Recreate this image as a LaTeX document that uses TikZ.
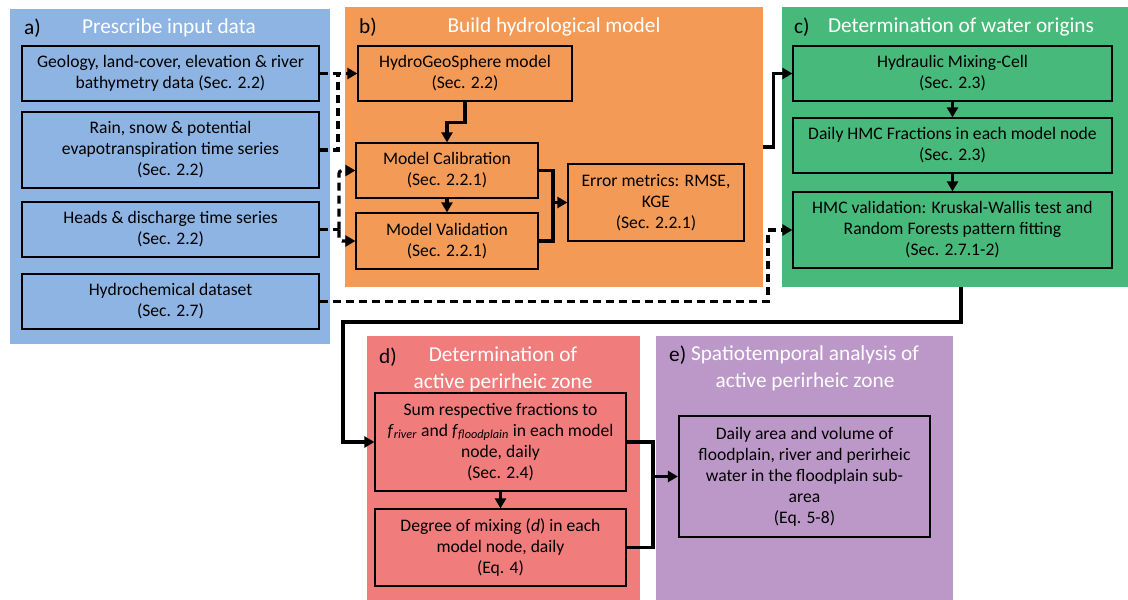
\documentclass[tikz,border=0pt]{standalone}
\usepackage{fontspec}
\setmainfont{Carlito}
\usetikzlibrary{arrows.meta}
\definecolor{cA}{HTML}{8DB4E2}
\definecolor{cB}{HTML}{F39A56}
\definecolor{cC}{HTML}{47B97A}
\definecolor{cD}{HTML}{F17C7C}
\definecolor{cE}{HTML}{BC98C8}
\begin{document}
\begin{tikzpicture}[x=1pt,y=-1pt,
  panel/.style={draw=none,inner sep=0pt},
  box/.style={draw=black,line width=1.3pt,inner sep=0pt,align=center,font=\fontsize{17.6}{21}\selectfont},
  ttl/.style={text=white,inner sep=0pt,font=\fontsize{21.3}{26.5}\selectfont,align=center},
  lbl/.style={text=black,inner sep=0pt,font=\fontsize{21.3}{26}\selectfont,anchor=west},
  conn/.style={line width=3.2pt},
  arr/.style={conn,-{Triangle[length=10pt,width=11pt]}},
  dsh/.style={dash pattern=on 8pt off 5pt}]
\useasboundingbox (0,0) rectangle (1128,600);
\fill[white] (0,0) rectangle (1128,600);
% panels
\node[panel,fill=cA,minimum width=320pt,minimum height=335pt] (pa) at (170,176.5) {};
\node[panel,fill=cB,minimum width=418pt,minimum height=280pt] (pb) at (554,147) {};
\node[panel,fill=cC,minimum width=346pt,minimum height=280pt] (pc) at (955,147) {};
\node[panel,fill=cD,minimum width=273pt,minimum height=264pt] (pd) at (503.5,468) {};
\node[panel,fill=cE,minimum width=297pt,minimum height=264pt] (pe) at (804.5,468) {};
% titles
\node[lbl] (la) at (24,28) {a)};
\node[ttl] (ta) at (169,28) {Prescribe input data};
\node[lbl] (lb) at (359,27) {b)};
\node[ttl] (tb) at (554,27) {Build hydrological model};
\node[lbl] (lc) at (794,27) {c)};
\node[ttl] (tc) at (961,27) {Determination of water origins};
\node[lbl] (ld) at (379,357) {d)};
\node[ttl] (td) at (503,369.5) {Determination of\\active perirheic zone};
\node[lbl] (le) at (669,355) {e)};
\node[ttl] (te1) at (805,355) {Spatiotemporal analysis of};
\node[ttl] (te2) at (805,382) {active perirheic zone};
% boxes a
\node[box,minimum width=297pt,minimum height=55pt] (a1) at (170.5,73.5) {Geology, land-cover, elevation \& river\\bathymetry data (Sec. 2.2)};
\node[box,minimum width=297pt,minimum height=76pt] (a2) at (170.5,150) {Rain, snow \& potential\\evapotranspiration time series\\(Sec. 2.2)};
\node[box,minimum width=297pt,minimum height=55pt] (a3) at (170.5,229.5) {Heads \& discharge time series\\(Sec. 2.2)};
\node[box,minimum width=297pt,minimum height=55pt] (a4) at (170.5,301.5) {Hydrochemical dataset\\(Sec. 2.7)};
% boxes b
\node[box,minimum width=214pt,minimum height=55pt] (hgs) at (465,73.5) {HydroGeoSphere model\\(Sec. 2.2)};
\node[box,minimum width=182pt,minimum height=55pt] (cal) at (447,170.5) {Model Calibration\\(Sec. 2.2.1)};
\node[box,minimum width=182pt,minimum height=56pt] (val) at (447,241) {Model Validation\\(Sec. 2.2.1)};
\node[box,minimum width=176pt,minimum height=77pt] (err) at (656,202.5) {Error metrics: RMSE,\\KGE\\(Sec. 2.2.1)};
% boxes c
\node[box,minimum width=319pt,minimum height=55pt] (hmc) at (952.5,73.5) {Hydraulic Mixing-Cell\\(Sec. 2.3)};
\node[box,minimum width=319pt,minimum height=55pt] (dly) at (952.5,145.5) {Daily HMC Fractions in each model node\\(Sec. 2.3)};
\node[box,minimum width=319pt,minimum height=76pt] (hv) at (952.5,230) {HMC validation: Kruskal-Wallis test and\\Random Forests pattern fitting\\(Sec. 2.7.1-2)};
% boxes d
\node[box,minimum width=251pt,minimum height=98pt] (sum) at (500.5,442) {Sum respective fractions to\\\textit{f}\textsubscript{\textit{river}} and \textit{f}\textsubscript{\textit{floodplain}} in each model\\node, daily\\(Sec. 2.4)};
\node[box,minimum width=251pt,minimum height=77pt] (deg) at (500.5,547.5) {Degree of mixing (\textit{d}) in each\\model node, daily\\(Eq. 4)};
% box e
\node[box,line width=2.2pt,minimum width=251pt,minimum height=121pt] (eb) at (804.5,476.5) {Daily area and volume of\\floodplain, river and perirheic\\water in the floodplain sub-\\area\\(Eq. 5-8)};
% connectors
\coordinate (v1) at (338,73.5);
\coordinate (v2) at (339,229.5);
\coordinate (v3) at (768,301.5);
\coordinate (j1) at (553,202.5);
\coordinate (cout) at (961,287);
\coordinate (k1) at (343,322);
\coordinate (j2) at (653,476.5);
\draw[arr,dsh] (a1.east) -- (hgs.west);
\draw[conn,dsh] (a2.east) -| (v1);
\draw[conn,dsh] (a3.east) -- (v2);
\draw[arr,dsh,rounded corners=3pt] (v2) |- (cal.west);
\draw[arr,dsh,rounded corners=3pt] (v2) |- (val.west);
\draw[arr,dsh] (a4.east) -- (v3) |- (hv.west);
\draw[arr] (hgs.south) -- ++(0,21) -| (cal.north);
\draw[arr] (cal.south) -- (val.north);
\draw[conn] (cal.east) -| (j1);
\draw[conn] (val.east) -| (j1);
\draw[arr] (j1) -- (err.west);
\draw[arr] (pb.east) -- ++(10,0) |- (hmc.west);
\draw[arr] (hmc.south) -- (dly.north);
\draw[arr] (dly.south) -- (hv.north);
\draw[arr] (cout) |- (k1) |- (sum.west);
\draw[arr] (sum.south) -- (deg.north);
\draw[conn] (sum.east) -| (j2);
\draw[conn] (deg.east) -| (j2);
\draw[arr] (j2) -- (eb.west);
\end{tikzpicture}
\end{document}
